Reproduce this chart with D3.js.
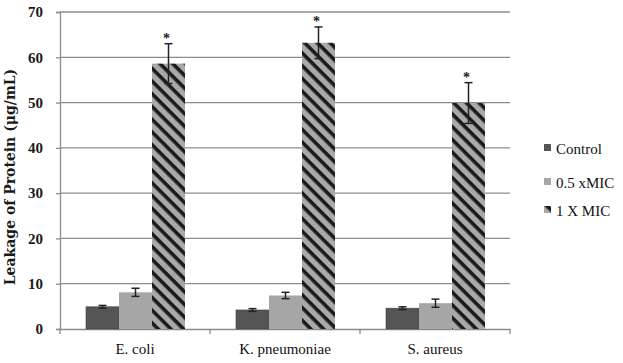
<!DOCTYPE html>
<html>
<head>
<meta charset="utf-8">
<script src="https://cdn.jsdelivr.net/npm/d3@7"></script>
<style>
body { margin: 0; background: #fff; }
</style>
</head>
<body>
<div id="chart"></div>
<script>
// donnees
const categories = ["E. coli", "K. pneumoniae", "S. aureus"];
const seriesNames = ["Control", "0.5 xMIC", "1 X MIC"];
const control = [4.9, 4.2, 4.6];
const controlErr = [0.3, 0.3, 0.3];
const halfMic = [8.1, 7.4, 5.7];
const halfMicErr = [0.9, 0.7, 0.9];
const oneMic = [58.6, 63.2, 49.9];
const oneMicErr = [4.4, 3.5, 4.5];
const yTicks = [0, 10, 20, 30, 40, 50, 60, 70];

const W = 623, H = 363;
const margin = {top: 12, right: 113, bottom: 34, left: 60},
    width = W - margin.left - margin.right,
    height = H - margin.top - margin.bottom;

const serif = "'Liberation Serif', 'DejaVu Serif', serif";

const svg = d3.select("#chart").append("svg")
    .attr("width", W)
    .attr("height", H);

// motif hachure pour 1 X MIC (traits en "\")
const defs = svg.append("defs");
const pat = defs.append("pattern")
    .attr("id", "hatch")
    .attr("patternUnits", "userSpaceOnUse")
    .attr("width", 9).attr("height", 9)
    .attr("patternTransform", "rotate(45)");
pat.append("rect").attr("width", 9).attr("height", 9).attr("fill", "#a9a9a9");
pat.append("rect").attr("width", 9).attr("height", 3.6).attr("fill", "#1a1a1a");

const g = svg.append("g")
    .attr("transform", "translate(" + margin.left + "," + margin.top + ")");

const x0 = d3.scaleBand().domain(categories).range([0, width]).padding(0);
const x1 = d3.scaleBand().domain(seriesNames).range([26, x0.bandwidth() - 25]).padding(0);
const y = d3.scaleLinear().domain([0, 70]).range([height, 0]);

// grille horizontale
g.selectAll(".grid").data(yTicks.slice(1)).enter()
    .append("line")
    .attr("x1", 0).attr("x2", width)
    .attr("y1", d => y(d)).attr("y2", d => y(d))
    .attr("stroke", "#8c8c8c").attr("stroke-width", 1.3);

// axe Y
const yAxis = g.append("g")
    .call(d3.axisLeft(y).tickValues(yTicks).tickSize(4).tickPadding(13));
yAxis.select(".domain").attr("stroke", "#8c8c8c").attr("stroke-width", 1.3);
yAxis.selectAll(".tick line").attr("stroke", "#8c8c8c").attr("stroke-width", 1.3);
yAxis.selectAll("text")
    .attr("font-family", serif)
    .attr("font-size", 15).attr("font-weight", "bold").attr("fill", "#1a1a1a");

// axe X
const xAxis = g.append("g")
    .attr("transform", "translate(0," + height + ")")
    .call(d3.axisBottom(x0).tickSize(0).tickPadding(14));
xAxis.select(".domain").attr("stroke", "#8c8c8c").attr("stroke-width", 1.3);
xAxis.selectAll("text")
    .attr("font-family", serif)
    .attr("font-size", 15).attr("fill", "#111");
// petits tirets entre categories
g.selectAll(".xtick").data(d3.range(categories.length + 1)).enter()
    .append("line")
    .attr("x1", d => d * x0.bandwidth()).attr("x2", d => d * x0.bandwidth())
    .attr("y1", height).attr("y2", height + 5)
    .attr("stroke", "#8c8c8c").attr("stroke-width", 1.3);

// barres
const series = [
    {name: seriesNames[0], values: control, err: controlErr, fill: "#555555"},
    {name: seriesNames[1], values: halfMic, err: halfMicErr, fill: "#a6a6a6"},
    {name: seriesNames[2], values: oneMic, err: oneMicErr, fill: "url(#hatch)"}
];

series.forEach(function(s) {
    const grp = g.append("g");
    grp.selectAll("rect").data(categories).enter()
        .append("rect")
        .attr("x", c => x0(c) + x1(s.name))
        .attr("y", (c, i) => y(s.values[i]))
        .attr("width", x1.bandwidth())
        .attr("height", (c, i) => height - y(s.values[i]))
        .attr("fill", s.fill)
        .attr("stroke", s.name === "Control" ? "#444" : "none")
        .attr("stroke-width", 0.6);

    // barres d'erreur
    categories.forEach(function(c, i) {
        const cx = x0(c) + x1(s.name) + x1.bandwidth() / 2;
        const top = y(s.values[i] + s.err[i]), bot = y(s.values[i] - s.err[i]);
        grp.append("line").attr("x1", cx).attr("x2", cx).attr("y1", top).attr("y2", bot)
            .attr("stroke", "#222").attr("stroke-width", 1.5);
        [top, bot].forEach(function(v) {
            grp.append("line").attr("x1", cx - 4).attr("x2", cx + 4).attr("y1", v).attr("y2", v)
                .attr("stroke", "#222").attr("stroke-width", 1.5);
        });
        if (s.name === "1 X MIC") {
            grp.append("text")
                .attr("x", cx - 2)
                .attr("y", top - 1)
                .attr("text-anchor", "middle")
                .attr("font-family", serif)
                .attr("font-size", 14).attr("font-weight", "bold")
                .attr("fill", "#1a1a1a")
                .text("*");
        }
    });
});

// titre axe Y
svg.append("text")
    .attr("transform", "translate(10," + (margin.top + 165) + ") rotate(-90)")
    .attr("text-anchor", "middle")
    .attr("dominant-baseline", "central")
    .attr("font-family", "'DejaVu Serif', serif")
    .attr("font-size", 14).attr("font-weight", "bold").attr("fill", "#1a1a1a")
    .text("Leakage of Protein (\u03bcg/mL)");

// legende
const legendY = [149, 183, 211];
const leg = svg.append("g");
series.forEach(function(s, i) {
    leg.append("rect")
        .attr("x", 544).attr("y", legendY[i] - 5)
        .attr("width", 7).attr("height", 7)
        .attr("fill", s.fill);
    leg.append("text")
        .attr("x", 556).attr("y", legendY[i])
        .attr("dominant-baseline", "central")
        .attr("font-family", serif)
        .attr("font-size", 15).attr("fill", "#111")
        .text(s.name);
});
</script>
</body>
</html>
